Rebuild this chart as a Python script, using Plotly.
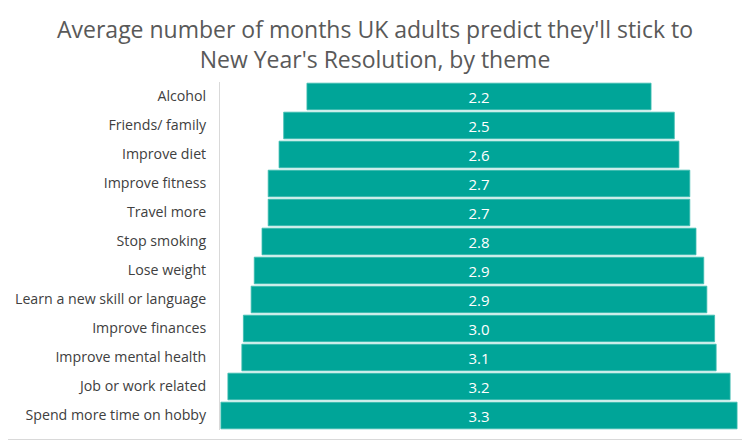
import plotly.graph_objects as go

# Temas e médias (meses)
temas = ["Alcohol", "Friends/ family", "Improve diet", "Improve fitness",
         "Travel more", "Stop smoking", "Lose weight",
         "Learn a new skill or language", "Improve finances",
         "Improve mental health", "Job or work related",
         "Spend more time on hobby"]
meses = [2.22, 2.52, 2.58, 2.72, 2.72, 2.80, 2.90, 2.94, 3.04, 3.06, 3.24, 3.33]

titulo = "Average number of months UK adults predict they'll stick to<br>New Year's Resolution, by theme"

cor_barra = "#00A598"
fonte = "Open Sans"

# a página tem 8px de margem no body -> figura um pouco menor
larg, alt = 742, 434
m_l, m_r, m_t, m_b = 212, 12, 74, 12
pw = larg - m_l - m_r
ph = alt - m_t - m_b

fig = go.Figure(go.Funnel(
    y=temas,
    x=meses,
    texttemplate="%{x:.1f}",
    textposition="inside",
    insidetextanchor="middle",
    textfont=dict(color="white", size=15, family=fonte),
    marker=dict(color=cor_barra, line=dict(color="#3dbdb0", width=0.8)),
    connector=dict(visible=False),
    hoverinfo="y+x",
))

fig.update_layout(
    width=larg, height=alt,
    margin=dict(l=m_l, r=m_r, t=m_t, b=m_b),
    paper_bgcolor="white", plot_bgcolor="white",
    font=dict(family=fonte, color="#404040"),
    funnelgap=0.08,
    showlegend=False,
)

# título como anotação (centrado na figura)
fig.add_annotation(text=titulo, xref="paper", yref="paper",
                   x=(367 - m_l) / pw, y=1 + (m_t - 36) / ph,
                   xanchor="center", yanchor="middle", showarrow=False,
                   font=dict(size=23, color="#595959", family=fonte))

fig.update_xaxes(visible=False, range=[-1.671, 1.671])
fig.update_yaxes(showline=True, linecolor="#d9d9d9", linewidth=1,
                 tickfont=dict(size=14.2, color="#404040", family=fonte),
                 ticks="", ticklabelstandoff=10, showgrid=False,
                 automargin=False)

# borda do gráfico (só a de baixo e a da direita cabem)
bx = 1 + (larg - 2.5 - (larg - m_r)) / pw
by = -(alt - 2.5 - (alt - m_b)) / ph
fig.add_shape(type="line", xref="paper", yref="paper",
              x0=-m_l / pw, x1=bx, y0=by, y1=by,
              line=dict(color="#d9d9d9", width=1))
fig.add_shape(type="line", xref="paper", yref="paper",
              x0=bx, x1=bx, y0=by, y1=1 + m_t / ph,
              line=dict(color="#d9d9d9", width=1))

fig.write_html("out.html")
